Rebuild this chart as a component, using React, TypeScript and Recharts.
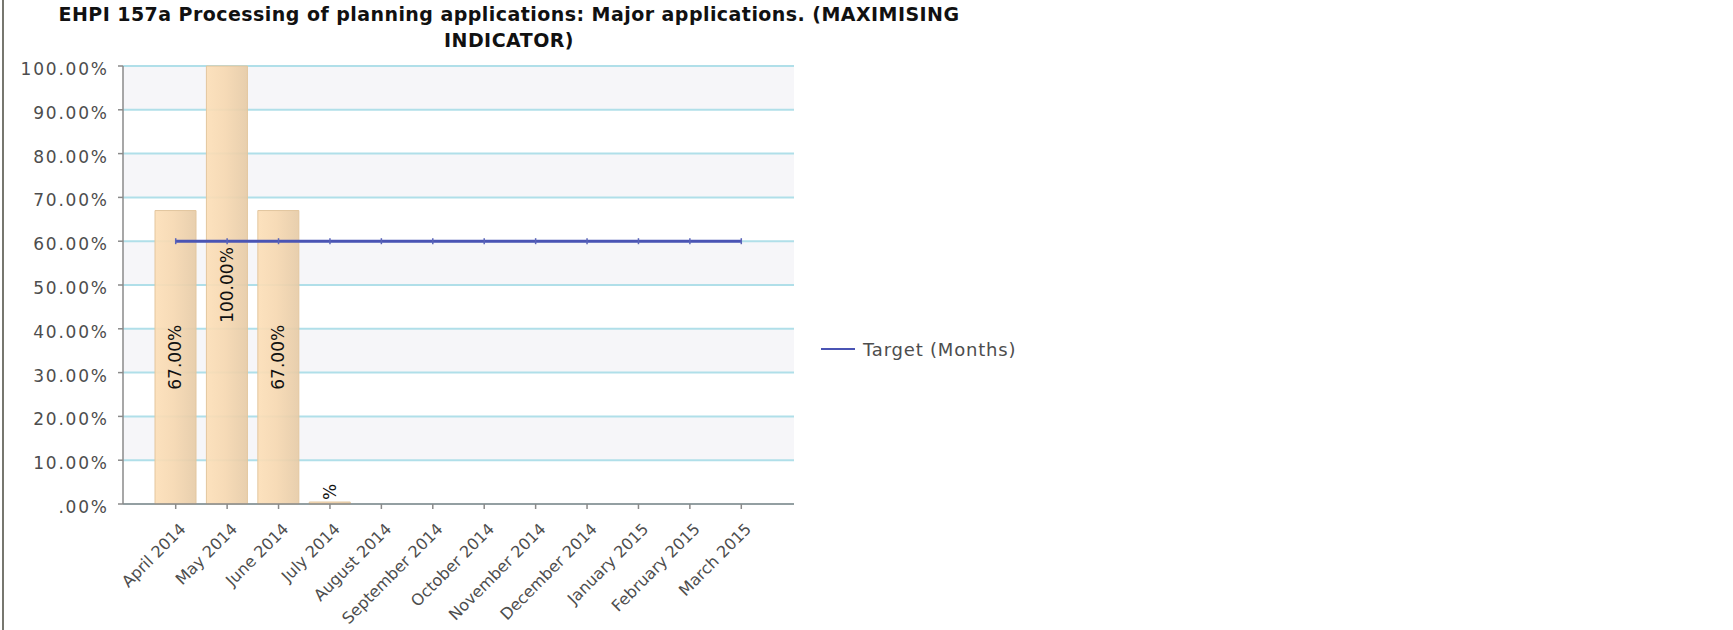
import React from 'react';
import {
  ComposedChart,
  Bar,
  Line,
  XAxis,
  YAxis,
  CartesianGrid,
  Legend,
  LabelList,
} from 'recharts';

// Reporting months (financial year 2014/15)
const months = [
  'April 2014',
  'May 2014',
  'June 2014',
  'July 2014',
  'August 2014',
  'September 2014',
  'October 2014',
  'November 2014',
  'December 2014',
  'January 2015',
  'February 2015',
  'March 2015',
];

// Percentage of major applications processed in time (null = not yet reported)
const actualPct: (number | null)[] = [67, 100, 67, 0, null, null, null, null, null, null, null, null];

// Monthly target
const targetPct = [60, 60, 60, 60, 60, 60, 60, 60, 60, 60, 60, 60];

// Y axis tick values
const yTicks = [0, 10, 20, 30, 40, 50, 60, 70, 80, 90, 100];

const data = months.map((month, i) => ({
  month,
  actual: actualPct[i],
  target: targetPct[i],
}));

const FONT = '"DejaVu Sans", Verdana, sans-serif';
const AXIS_TEXT = '#4d4d4d';
const AXIS_LINE = '#8a8a8a';

const fmtPct = (v: number) => (v === 0 ? '.00%' : `${v.toFixed(2)}%`);

const YTick = (props: any) => {
  const { x, y, payload } = props;
  return (
    <text
      x={x + 1.8}
      y={y + 3}
      dy="0.355em"
      textAnchor="end"
      fontSize={17}
      letterSpacing={1.8}
      fontFamily={FONT}
      fill={AXIS_TEXT}
    >
      {fmtPct(payload.value)}
    </text>
  );
};

const XTick = (props: any) => {
  const { x, y, payload } = props;
  const ax = x + 11;
  const ay = y + 19;
  return (
    <text
      x={ax}
      y={ay}
      textAnchor="end"
      transform={`rotate(-45, ${ax}, ${ay})`}
      fontSize={16}
      fontFamily={FONT}
      fill={AXIS_TEXT}
    >
      {payload.value}
    </text>
  );
};

const BarValueLabel = (props: any) => {
  const { x, y, width, height, value } = props;
  if (value === null || value === undefined) return null;
  const cx = Number(x) + Number(width) / 2;
  const isZero = Number(value) === 0;
  const cy = isZero ? Number(y) - 10 : Number(y) + Number(height) / 2;
  const text = isZero ? '%' : `${Number(value).toFixed(2)}%`;
  return (
    <text
      x={cx}
      y={cy}
      transform={`rotate(-90, ${cx}, ${cy})`}
      textAnchor="middle"
      dominantBaseline="central"
      fontSize={17}
      fontFamily={FONT}
      fill="#111"
    >
      {text}
    </text>
  );
};

const TargetDot = (props: any) => {
  const { cx, cy, index } = props;
  if (cx == null || cy == null) return <g key={`td-${index}`} />;
  return (
    <line
      key={`td-${index}`}
      x1={cx}
      x2={cx}
      y1={cy - 3}
      y2={cy + 3}
      stroke="#5a64b8"
      strokeWidth={1.5}
    />
  );
};

const LegendContent = (props: any) => {
  const items = (props.payload || []).filter((p: any) => p.type !== 'none');
  return (
    <div>
      {items.map((p: any) => (
        <div
          key={p.value}
          style={{ display: 'flex', alignItems: 'center', height: 24 }}
        >
          <svg width={42} height={6} style={{ display: 'block' }}>
            <line x1={0} x2={34} y1={3} y2={3} stroke={p.color} strokeWidth={2} />
          </svg>
          <span
            style={{
              fontFamily: FONT,
              fontSize: 18,
              letterSpacing: 0.8,
              color: AXIS_TEXT,
              whiteSpace: 'nowrap',
            }}
          >
            {p.value}
          </span>
        </div>
      ))}
    </div>
  );
};

export default function App() {
  return (
    <div
      style={{
        position: 'absolute',
        left: 0,
        top: 0,
        width: 1733,
        height: 630,
        background: '#fff',
        overflow: 'hidden',
      }}
    >
      {/* frame edge */}
      <div
        style={{
          position: 'absolute',
          left: 2,
          top: 0,
          width: 2,
          height: 630,
          background: '#77776f',
        }}
      />
      <div
        style={{
          position: 'absolute',
          left: 0,
          top: 1,
          width: 1018,
          textAlign: 'center',
          fontFamily: '"DejaVu Sans", sans-serif',
          fontWeight: 'bold',
          fontSize: 19,
          letterSpacing: 0.45,
          lineHeight: '26px',
          color: '#111',
          zIndex: 2,
          whiteSpace: 'nowrap',
        }}
      >
        EHPI 157a Processing of planning applications: Major applications. (MAXIMISING
        <br />
        INDICATOR)
      </div>
      <ComposedChart
        width={1733}
        height={630}
        data={data}
        margin={{ top: 66, right: 939, bottom: 16, left: 0 }}
      >
        <defs>
          <linearGradient id="barFill" x1="0" y1="0" x2="1" y2="0">
            <stop offset="0%" stopColor="#fcdfb8" />
            <stop offset="45%" stopColor="#f6d8b1" />
            <stop offset="100%" stopColor="#e6cba7" />
          </linearGradient>
        </defs>
        <CartesianGrid
          vertical={false}
          stroke="#b0dfe9"
          strokeWidth={2}
          horizontalFill={['#f6f6f9', '#ffffff']}
          fillOpacity={1}
        />
        <XAxis
          dataKey="month"
          interval={0}
          height={110}
          padding={{ left: 27, right: 27 }}
          tick={<XTick />}
          tickSize={5}
          tickMargin={2}
          axisLine={{ stroke: AXIS_LINE, strokeWidth: 1.5 }}
          tickLine={{ stroke: AXIS_LINE, strokeWidth: 1.5 }}
        />
        <YAxis
          width={123}
          domain={[0, 100]}
          ticks={yTicks}
          interval={0}
          tick={<YTick />}
          tickSize={5}
          tickMargin={11}
          axisLine={{ stroke: AXIS_LINE, strokeWidth: 1.5 }}
          tickLine={{ stroke: AXIS_LINE, strokeWidth: 1.5 }}
        />
        <Legend
          layout="horizontal"
          align="center"
          verticalAlign="middle"
          wrapperStyle={{ left: 821, top: 337, width: 300, height: 24 }}
          content={<LegendContent />}
        />
        <Bar
          dataKey="actual"
          name="Actual"
          legendType="none"
          barSize={41}
          fill="url(#barFill)"
          fillOpacity={0.92}
          stroke="#e3c69e"
          strokeWidth={1}
          minPointSize={(v: any) => (v === 0 ? 2 : 0)}
          isAnimationActive={false}
        >
          <LabelList dataKey="actual" content={<BarValueLabel />} />
        </Bar>
        <Line
          dataKey="target"
          name="Target (Months)"
          type="linear"
          stroke="#4a54b4"
          strokeWidth={3}
          dot={TargetDot}
          activeDot={false}
          isAnimationActive={false}
        />
      </ComposedChart>
    </div>
  );
}
